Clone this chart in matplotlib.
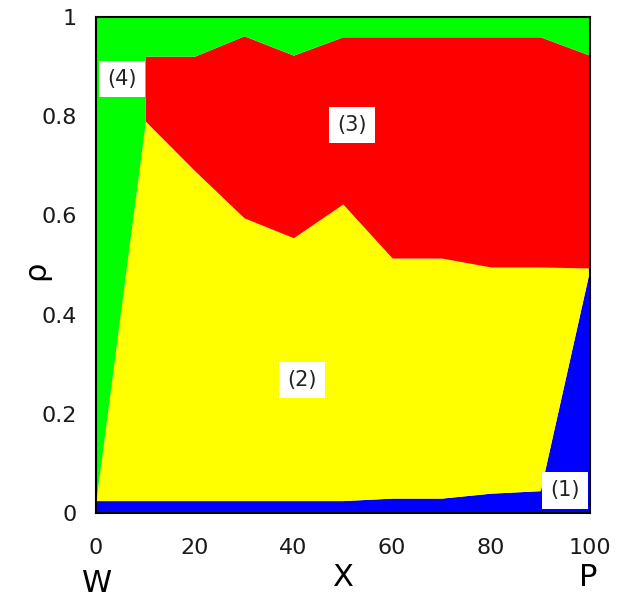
import matplotlib
matplotlib.use("Agg")
import matplotlib.pyplot as plt

# composition along the W-P line; x=10 appears twice so the red band starts with a vertical edge
x = [0, 10, 10, 20, 30, 40, 50, 60, 70, 80, 90, 100]
top1 = [0.025, 0.025, 0.025, 0.025, 0.025, 0.025, 0.025, 0.03, 0.03, 0.04, 0.045, 0.49]
top2 = [0.025, 0.79, 0.79, 0.69, 0.595, 0.555, 0.623, 0.514, 0.514, 0.496, 0.496, 0.494]
top3 = [0.025, 0.79, 0.921, 0.921, 0.962, 0.923, 0.96, 0.96, 0.96, 0.96, 0.96, 0.923]
top4 = [1.0] * len(x)

colors = ["#0000ff", "#ffff00", "#ff0000", "#00ff00"]
labels = ["(1)", "(2)", "(3)", "(4)"]
label_pos = [(95.0, 0.046), (41.7, 0.268), (51.8, 0.782), (5.3, 0.875)]

fig = plt.figure(figsize=(6.17, 6.0), dpi=100)
ax = fig.add_axes([0.1556, 0.145, 0.8, 0.8267])

bands = [[0.0] * len(x), top1, top2, top3, top4]
for i in range(4):
    ax.fill_between(x, bands[i], bands[i + 1], color=colors[i], linewidth=0)

for (lx, ly), txt in zip(label_pos, labels):
    ax.text(lx, ly, txt, ha="center", va="center", fontsize=15, color="#222222",
            bbox=dict(facecolor="white", edgecolor="none", pad=6))

ax.set_xlim(0, 100)
ax.set_ylim(0, 1)
ax.set_xticks([0, 20, 40, 60, 80, 100])
ax.set_yticks([0, 0.2, 0.4, 0.6, 0.8, 1])
ax.set_yticklabels(["0", "0.2", "0.4", "0.6", "0.8", "1"])
ax.tick_params(length=0, labelsize=16, labelcolor="#1a1a1a")
ax.tick_params(axis="x", pad=18)
ax.tick_params(axis="y", pad=14)
for s in ax.spines.values():
    s.set_linewidth(1.5)

ax.set_xlabel("X", fontsize=22)
ax.xaxis.set_label_coords(0.5, -0.131)
ax.xaxis.label.set_va("center")
ax.set_ylabel("ρ", fontsize=22)
ax.yaxis.set_label_coords(-0.123, 0.49)
ax.yaxis.label.set_va("center")
fig.text(97 / 617, 1 - 583 / 600, "W", fontsize=22, ha="center", va="center")
fig.text(588 / 617, 1 - 578 / 600, "P", fontsize=22, ha="center", va="center")

fig.savefig("out.png", dpi=100)
